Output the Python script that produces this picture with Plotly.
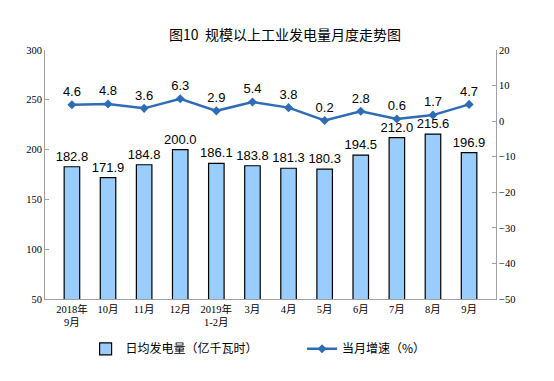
import plotly.graph_objects as go

categories = ["2018年<br>9月", "10月", "11月", "12月", "2019年<br>1-2月", "3月", "4月", "5月", "6月", "7月", "8月", "9月"]
daily_output = [182.8, 171.9, 184.8, 200.0, 186.1, 183.8, 181.3, 180.3, 194.5, 212.0, 215.6, 196.9]
growth = [4.6, 4.8, 3.6, 6.3, 2.9, 5.4, 3.8, 0.2, 2.8, 0.6, 1.7, 4.7]
left_ticks = [50, 100, 150, 200, 250, 300]
right_ticks = [-50, -40, -30, -20, -10, 0, 10, 20]

serif = "'Liberation Serif', 'DejaVu Serif', 'Noto Sans CJK SC', serif"
sans = "'Liberation Sans', Arial, sans-serif"
cjk = "'Noto Sans CJK SC'"

fig = go.Figure()
fig.add_trace(go.Bar(
    x=categories, y=daily_output, name="日均发电量（亿千瓦时）",
    marker=dict(color="#99CCFF", line=dict(color="#000000", width=1.2)),
    width=0.43,
    text=[f"{v:.1f}" for v in daily_output], textposition="outside",
    constraintext="none",
    textfont=dict(family=sans, size=13, color="#000"), cliponaxis=False,
    legend="legend",
))
fig.add_trace(go.Scatter(
    x=categories, y=growth, name="当月增速（%）", yaxis="y2",
    mode="lines+markers+text",
    line=dict(color="#2E6DB5", width=2.5),
    marker=dict(symbol="diamond", size=7, color="#2E6DB5"),
    text=[f"{v:.1f}" for v in growth], textposition="top center",
    textfont=dict(family=sans, size=13, color="#000"), cliponaxis=False,
    legend="legend2",
))

fig.update_layout(
    width=554, height=381,
    margin=dict(l=37, r=66, t=42, b=90),
    paper_bgcolor="white", plot_bgcolor="white",
    title=dict(text="图10  规模以上工业发电量月度走势图", x=0.5, xanchor="center", y=0.93, yanchor="middle",
               font=dict(family=cjk, size=14, color="#000")),
    xaxis=dict(showline=True, linecolor="#A0A0A0", linewidth=1, ticks="", showgrid=False,
               tickfont=dict(family=serif, size=10.5, color="#000")),
    yaxis=dict(range=[50, 300], tickvals=left_ticks, showgrid=False, showline=True,
               linecolor="#A0A0A0", ticks="inside", ticklen=4, tickcolor="#A0A0A0",
               tickfont=dict(family=serif, size=10.5, color="#000"), zeroline=False),
    yaxis2=dict(range=[-50, 20], tickvals=right_ticks, overlaying="y", side="right",
                showgrid=False, showline=True, linecolor="#A0A0A0", ticks="inside", ticklen=4,
                tickcolor="#A0A0A0", tickfont=dict(family=serif, size=10.5, color="#000"), zeroline=False),
    legend=dict(x=0.09, y=-0.2, xanchor="left", yanchor="middle", orientation="h",
                font=dict(family=cjk, size=12, color="#000"), bgcolor="rgba(0,0,0,0)"),
    legend2=dict(x=0.57, y=-0.2, xanchor="left", yanchor="middle", orientation="h",
                 font=dict(family=cjk, size=12, color="#000"), bgcolor="rgba(0,0,0,0)"),
    showlegend=True,
)

fig.write_html("out.html")
